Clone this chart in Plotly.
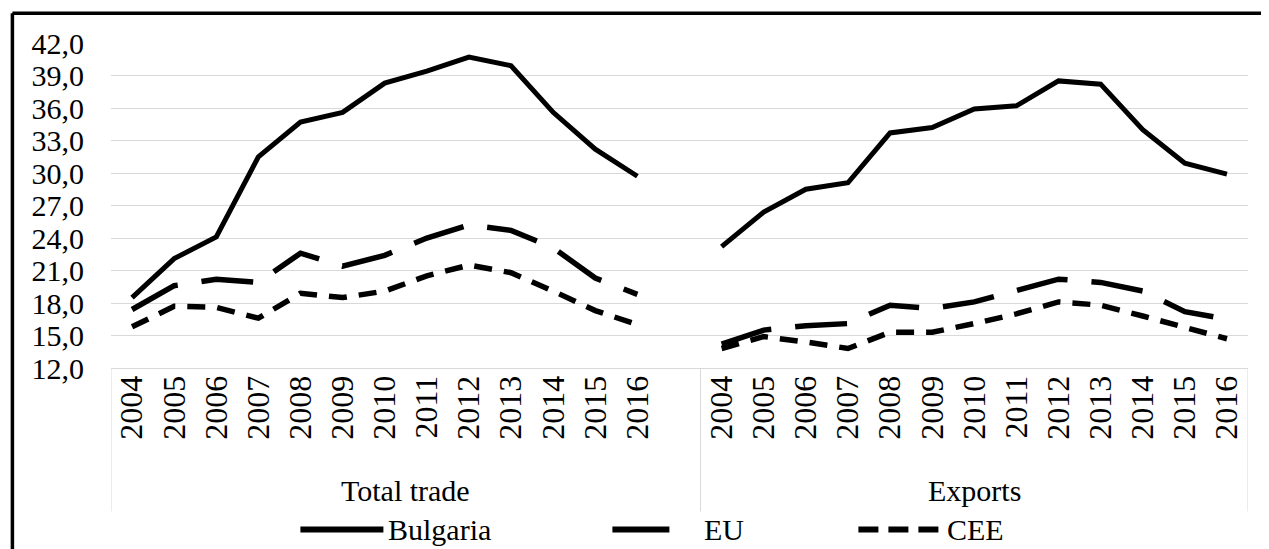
import plotly.graph_objects as go

# ---------------- data ----------------
years = ["2004", "2005", "2006", "2007", "2008", "2009", "2010",
         "2011", "2012", "2013", "2014", "2015", "2016"]
groups = ["Total trade", "Exports"]
series_names = ["Bulgaria", "EU", "CEE"]

total_bulgaria = [18.5, 22.1, 24.1, 31.5, 34.7, 35.6, 38.3, 39.4, 40.7, 39.9, 35.6, 32.2, 29.7]
total_eu = [17.4, 19.6, 20.2, 19.9, 22.6, 21.4, 22.4, 24.0, 25.2, 24.7, 23.1, 20.3, 18.8]
total_cee = [15.8, 17.7, 17.6, 16.6, 18.9, 18.5, 19.1, 20.5, 21.5, 20.8, 19.1, 17.3, 16.0]

exports_bulgaria = [23.2, 26.4, 28.5, 29.1, 33.7, 34.2, 35.9, 36.2, 38.5, 38.2, 34.0, 30.9, 29.9]
exports_eu = [14.2, 15.5, 15.9, 16.1, 17.8, 17.5, 18.1, 19.2, 20.2, 19.9, 19.1, 17.2, 16.5]
exports_cee = [13.8, 14.9, 14.4, 13.8, 15.3, 15.3, 16.1, 17.0, 18.1, 17.8, 16.8, 15.8, 14.7]

y_ticks = [12, 15, 18, 21, 24, 27, 30, 33, 36, 39, 42]

# ---------------- layout geometry ----------------
# The page body adds an 8px offset, so the figure is sized to the visible area
OFF = 8
W, H = 1269 - OFF, 549 - OFF
PLOT_L, PLOT_R, PLOT_T, PLOT_B = 110.6, 1247.6, 43.3, 368.5   # target screen pixels
L = PLOT_L - OFF
R = W - (PLOT_R - OFF)
T = PLOT_T - OFF
B = H - (PLOT_B - OFF)
FONT = "Liberation Serif"


def px_x(px):
    return (px - PLOT_L) / (PLOT_R - PLOT_L)


def px_y(py):
    return (PLOT_B - py) / (PLOT_B - PLOT_T)


n = len(years)
x_total = list(range(n))                   # first group slots
x_exports = list(range(n + 1, 2 * n + 1))  # second group slots (after one empty slot)

styles = {
    "Bulgaria": dict(color="black", width=5, dash="solid"),
    "EU": dict(color="black", width=5.5, dash="52px,24px"),
    "CEE": dict(color="black", width=5.5, dash="18px,12px"),
}

fig = go.Figure()
panel_data = [
    (x_total, [total_bulgaria, total_eu, total_cee]),
    (x_exports, [exports_bulgaria, exports_eu, exports_cee]),
]
for xs, vals in panel_data:
    for name, ys in zip(series_names, vals):
        fig.add_trace(go.Scatter(
            x=xs, y=ys, mode="lines", name=name, legendgroup=name,
            showlegend=False, line=styles[name],
        ))

# category axis decoration: group separators
box_bottom = px_y(512)
for xv in [-0.5, n + 0.5, 2 * n + 0.5]:
    fig.add_shape(type="line", xref="x", yref="paper", x0=xv, x1=xv,
                  y0=0, y1=box_bottom, line=dict(color="#d9d9d9", width=1))

# group labels
group_centers = [(-0.5 + n + 0.5) / 2, (n + 0.5 + 2 * n + 0.5) / 2]
for g, cx in zip(groups, group_centers):
    fig.add_annotation(x=cx, xref="x", y=px_y(491), yref="paper", text=g,
                       showarrow=False, font=dict(family=FONT, size=30, color="black"),
                       xanchor="center", yanchor="middle")

# manual legend (long line samples like the original)
leg_y = px_y(530)
legend_items = [
    ("Bulgaria", 300, 383, 386, "solid"),
    ("EU", 612, 669, 702, "solid"),
    ("CEE", 858, 938, 945, "20px,10px"),
]
for name, x0, x1, tx, dash in legend_items:
    fig.add_shape(type="line", xref="paper", yref="paper",
                  x0=px_x(x0), x1=px_x(x1), y0=leg_y, y1=leg_y,
                  line=dict(color="black", width=6, dash=dash))
    fig.add_annotation(x=px_x(tx), xref="paper", y=leg_y, yref="paper", text=name,
                       showarrow=False, xanchor="left", yanchor="middle",
                       font=dict(family=FONT, size=30, color="black"))

# outer black frame (top and left edges)
fig.add_shape(type="line", xref="paper", yref="paper",
              x0=px_x(12), x1=px_x(1290), y0=px_y(13.5), y1=px_y(13.5),
              line=dict(color="black", width=3.5))
fig.add_shape(type="line", xref="paper", yref="paper",
              x0=px_x(12), x1=px_x(12), y0=px_y(13.5), y1=px_y(570),
              line=dict(color="black", width=3.5))

fig.update_layout(
    width=W, height=H,
    margin=dict(l=L, r=R, t=T, b=B, pad=0),
    paper_bgcolor="white", plot_bgcolor="white",
    separators=", ",
    showlegend=False,
    font=dict(family=FONT, size=30, color="black"),
)
fig.update_xaxes(
    range=[-0.5, 2 * n + 0.5],
    tickvals=x_total + x_exports, ticktext=years + years,
    tickangle=-90, ticks="", showgrid=False, zeroline=False,
    showline=True, linecolor="#d9d9d9", linewidth=1,
    tickfont=dict(family=FONT, size=32, color="black"),
    ticklabelstandoff=-6,
)
fig.update_yaxes(
    range=[12, 42], tickvals=y_ticks, tickformat=".1f",
    showgrid=True, gridcolor="#d9d9d9", gridwidth=1,
    zeroline=False, showline=False, ticks="",
    tickfont=dict(family=FONT, size=30, color="black"),
    ticklabelstandoff=26,
)

fig.write_html("out.html")
